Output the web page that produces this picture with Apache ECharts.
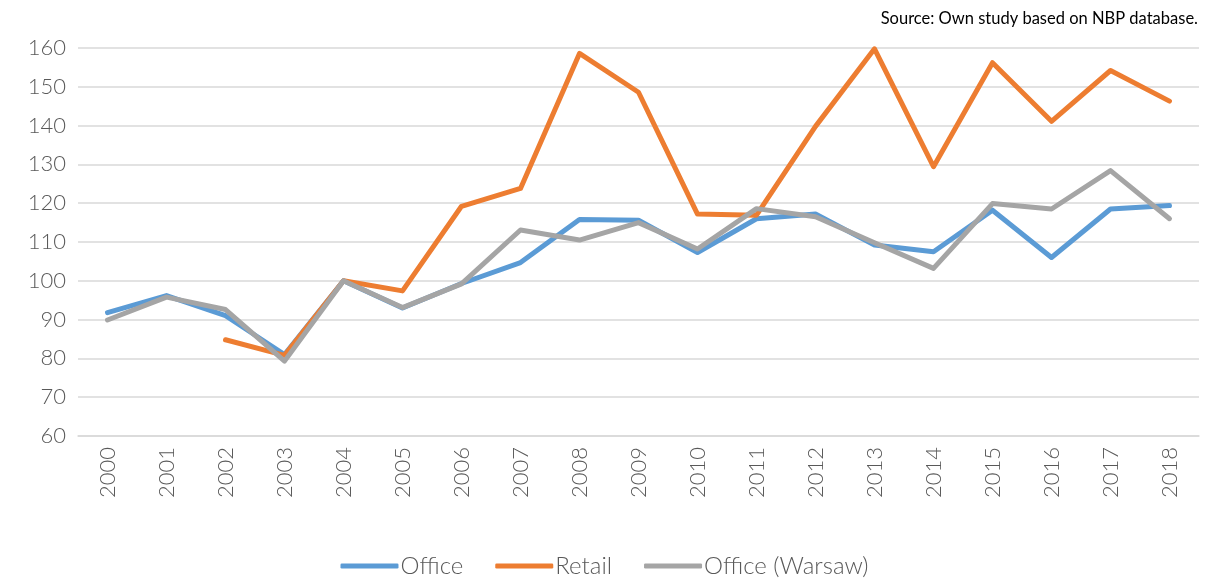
<!DOCTYPE html>
<html>
<head>
<meta charset="utf-8">
<script src="https://cdn.jsdelivr.net/npm/echarts@6/dist/echarts.min.js"></script>
<style>
  html, body { margin: 0; padding: 0; background: #fff; }
  #chart { width: 1209px; height: 583px; }
</style>
</head>
<body>
<div id="chart"></div>
<script>
const years = ["2000", "2001", "2002", "2003", "2004", "2005", "2006", "2007", "2008", "2009",
  "2010", "2011", "2012", "2013", "2014", "2015", "2016", "2017", "2018"];
const office = [91.8, 96.2, 91.0, 81.0, 100, 93.0, 99.3, 104.7, 115.8, 115.6,
  107.3, 116.0, 117.2, 109.2, 107.5, 118.2, 106.0, 118.5, 119.4];
const retail = [null, null, 84.8, 80.8, 100, 97.4, 119.2, 123.8, 158.6, 148.6,
  117.2, 116.9, 139.8, 159.8, 129.4, 156.2, 141.1, 154.2, 146.3];
const officeWarsaw = [89.9, 95.8, 92.6, 79.3, 100, 93.1, 99.2, 113.1, 110.5, 115.0,
  108.2, 118.6, 116.5, 109.8, 103.2, 119.9, 118.5, 128.4, 116.0];
const yTicks = { min: 60, max: 160, step: 10 };

const chart = echarts.init(document.getElementById("chart"));

const fontFamily = "Lato, 'Open Sans', sans-serif";

function lineSeries(name, data, color) {
  return {
    name: name,
    type: "line",
    data: data,
    symbol: "none",
    connectNulls: false,
    lineStyle: { color: color, width: 5, cap: "round", join: "round" },
    itemStyle: { color: color },
  };
}

chart.setOption({
  backgroundColor: "#fff",
  animation: false,
  title: {
    text: "Source: Own study based on NBP database.",
    right: 6,
    top: 5,
    textStyle: {
      fontFamily: fontFamily,
      fontSize: 16.5,
      fontWeight: "normal",
      color: "#000",
    },
  },
  legend: {
    bottom: 0,
    left: "center",
    itemWidth: 58,
    itemHeight: 5,
    itemGap: 32,
    icon: "roundRect",
    textStyle: {
      fontFamily: fontFamily,
      fontSize: 24,
      fontWeight: 300,
      color: "#595959",
      padding: [0, 0, 0, -3],
    },
    data: ["Office", "Retail", "Office (Warsaw)"],
  },
  grid: {
    top: 48,
    left: 78,
    right: 10,
    bottom: 147,
    containLabel: false,
  },
  xAxis: {
    type: "category",
    data: years,
    boundaryGap: true,
    axisTick: { show: false },
    axisLine: { show: true, lineStyle: { color: "#D9D9D9", width: 1.5 } },
    axisLabel: {
      rotate: 90,
      margin: 11,
      fontFamily: fontFamily,
      fontSize: 22,
      fontWeight: 300,
      color: "#595959",
    },
    splitLine: { show: false },
  },
  yAxis: {
    type: "value",
    min: yTicks.min,
    max: yTicks.max,
    interval: yTicks.step,
    axisLine: { show: false },
    axisTick: { show: false },
    axisLabel: {
      margin: 12,
      fontFamily: fontFamily,
      fontSize: 22,
      fontWeight: 300,
      color: "#595959",
    },
    splitLine: { show: true, lineStyle: { color: "#D9D9D9", width: 1.5 } },
  },
  series: [
    lineSeries("Office", office, "#5B9BD5"),
    lineSeries("Retail", retail, "#ED7D31"),
    lineSeries("Office (Warsaw)", officeWarsaw, "#A5A5A5"),
  ],
});
</script>
</body>
</html>
